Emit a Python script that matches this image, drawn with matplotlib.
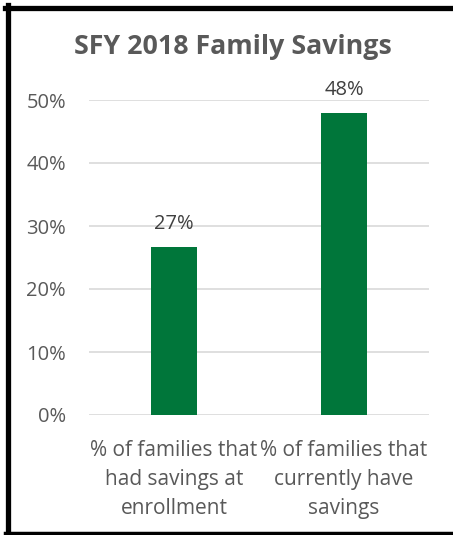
import matplotlib
matplotlib.use("Agg")
import matplotlib.pyplot as plt
from matplotlib.ticker import PercentFormatter

categories = ["% of families that\nhad savings at\nenrollment",
              "% of families that\ncurrently have\nsavings"]
values = [26.7, 48.0]
labels = ["27%", "48%"]
yticks = [0, 10, 20, 30, 40, 50]

W, H = 453, 535
fig = plt.figure(figsize=(W / 100, H / 100), dpi=100)
ax = fig.add_axes([89 / W, 1 - 415 / H, 340 / W, 315 / H])

green = "#00763A"
gray = "#595959"
font = "Open Sans"

x = [0, 1]
ax.bar(x, values, width=0.27, color=green, zorder=3)
ax.set_xlim(-0.5, 1.5)
ax.set_ylim(0, 50)
ax.set_yticks(yticks)
ax.yaxis.set_major_formatter(PercentFormatter(decimals=0))
ax.grid(axis="y", color="#D9D9D9", linewidth=1.2, zorder=0)
for s in ax.spines.values():
    s.set_visible(False)
ax.tick_params(length=0)
ax.tick_params(axis="y", pad=16.5, labelsize=14.5, labelcolor=gray)
for t in ax.get_yticklabels():
    t.set_fontfamily(font)
ax.set_xticks(x)
ax.set_xticklabels(categories, fontsize=15, color=gray, family=font,
                   linespacing=1.5)
ax.tick_params(axis="x", pad=18)

for xi, v, lab in zip(x, values, labels):
    ax.annotate(lab, (xi, v), xytext=(0, 13), textcoords="offset points",
                ha="center", va="baseline", fontsize=14.5, color="#404040",
                family=font)

fig.text(233 / W, 1 - 47 / H, "SFY 2018 Family Savings", ha="center",
         va="center", fontsize=19.3, fontweight="bold", color=gray, family=font)

# outer black frame (top, left, bottom)
fig.add_artist(plt.Line2D([5 / W, 1], [1 - 7.5 / H] * 2, color="black",
                          linewidth=3.8, transform=fig.transFigure))
fig.add_artist(plt.Line2D([7.5 / W] * 2, [1 - 5 / H, 1 - 533 / H], color="black",
                          linewidth=3.8, transform=fig.transFigure))
fig.add_artist(plt.Line2D([5 / W, 1], [1 - 532.5 / H] * 2, color="black",
                          linewidth=2.5, transform=fig.transFigure))

fig.savefig("out.png", dpi=100)
